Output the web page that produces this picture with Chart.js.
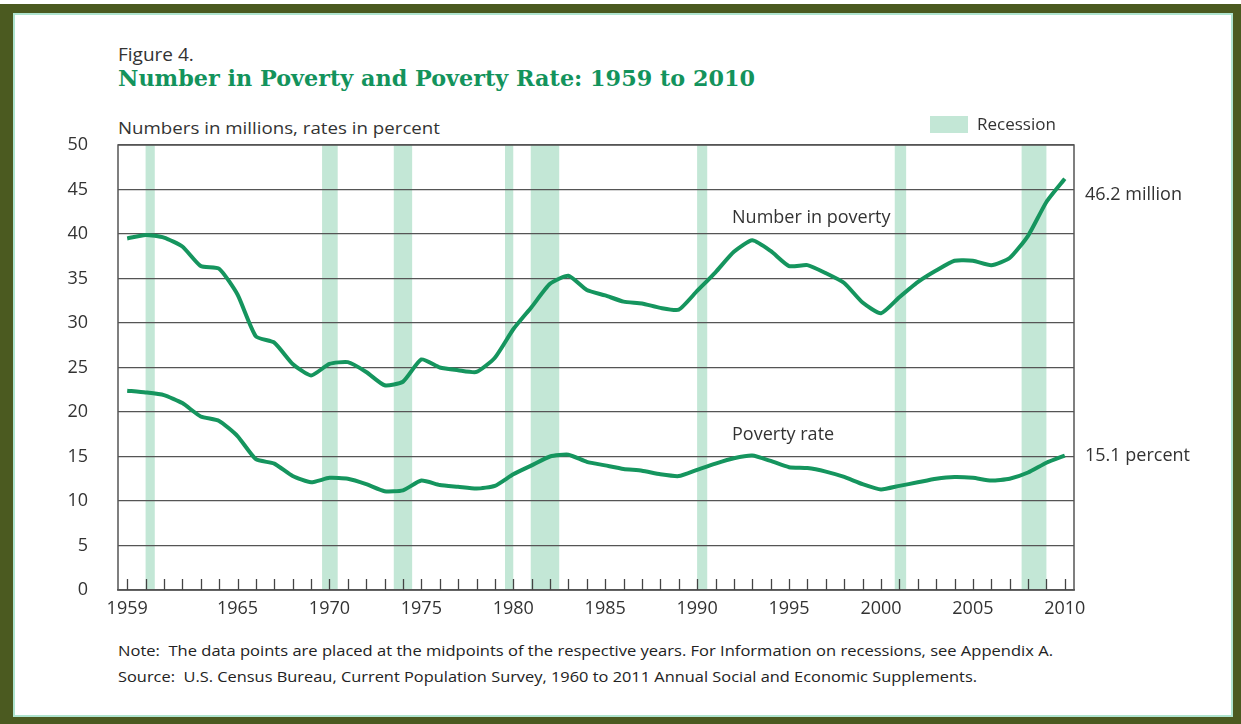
<!DOCTYPE html>
<html>
<head>
<meta charset="utf-8">
<script src="https://cdn.jsdelivr.net/npm/chart.js@4/dist/chart.umd.min.js"></script>
<style>
  html, body { margin: 0; padding: 0; width: 1241px; height: 724px; overflow: hidden; background: #fff; }
  #frame { position: absolute; left: 0; top: 4px; width: 1241px; height: 720px; background: #4b5a20; }
  #panel { position: absolute; left: 13px; top: 9px; width: 1220px; height: 704px; background: #fff;
           box-sizing: border-box; border: 2px solid #aee4cf; }
  #wrap { position: absolute; left: 0; top: 0; width: 1241px; height: 724px; }
  .txt { position: absolute; white-space: nowrap; transform-origin: 0 0; line-height: 1; }
  #fig { left: 118px; top: 41px; font: 19px "Open Sans", sans-serif; color: #333; }
  #title { left: 118px; top: 64px; font: bold 23px "DejaVu Serif", serif; color: #13935c; }
  #units { left: 118px; top: 116px; font: 17px "Open Sans", sans-serif; color: #333; }
  .note { left: 118px; font: 15px "Open Sans", sans-serif; color: #222; }
  #note1 { top: 640px; }
  #note2 { top: 666px; }
</style>
</head>
<body>
<div id="frame"><div id="panel"></div></div>
<div class="txt" id="fig">Figure 4.</div>
<div class="txt fit" id="title" data-w="637">Number in Poverty and Poverty Rate: 1959 to 2010</div>
<div class="txt fit" id="units" data-w="322">Numbers in millions, rates in percent</div>
<div class="txt note fit" id="note1" data-w="935">Note:&nbsp; The data points are placed at the midpoints of the respective years. For Information on recessions, see Appendix A.</div>
<div class="txt note fit" id="note2" data-w="859">Source:&nbsp; U.S. Census Bureau, Current Population Survey, 1960 to 2011 Annual Social and Economic Supplements.</div>
<div id="wrap"><canvas id="povertyChart" width="1241" height="724"></canvas></div>

<script>
// Годы и значения
const years = [1959, 1960, 1961, 1962, 1963, 1964, 1965, 1966, 1967, 1968, 1969,
  1970, 1971, 1972, 1973, 1974, 1975, 1976, 1977, 1978, 1979,
  1980, 1981, 1982, 1983, 1984, 1985, 1986, 1987, 1988, 1989,
  1990, 1991, 1992, 1993, 1994, 1995, 1996, 1997, 1998, 1999,
  2000, 2001, 2002, 2003, 2004, 2005, 2006, 2007, 2008, 2009, 2010];

const numberInPoverty = [39.5, 39.9, 39.6, 38.6, 36.4, 36.1, 33.2, 28.5, 27.8, 25.4, 24.1,
  25.4, 25.6, 24.5, 23.0, 23.4, 25.9, 25.0, 24.7, 24.5, 26.1,
  29.3, 31.8, 34.4, 35.3, 33.7, 33.1, 32.4, 32.2, 31.7, 31.5,
  33.6, 35.7, 38.0, 39.3, 38.1, 36.4, 36.5, 35.6, 34.5, 32.3,
  31.1, 32.9, 34.6, 35.9, 37.0, 37.0, 36.5, 37.3, 39.8, 43.6, 46.2];

const povertyRate = [22.4, 22.2, 21.9, 21.0, 19.5, 19.0, 17.3, 14.7, 14.2, 12.8, 12.1,
  12.6, 12.5, 11.9, 11.1, 11.2, 12.3, 11.8, 11.6, 11.4, 11.7,
  13.0, 14.0, 15.0, 15.2, 14.4, 14.0, 13.6, 13.4, 13.0, 12.8,
  13.5, 14.2, 14.8, 15.1, 14.5, 13.8, 13.7, 13.3, 12.7, 11.9,
  11.3, 11.7, 12.1, 12.5, 12.7, 12.6, 12.3, 12.5, 13.2, 14.3, 15.1];

// Рецессии (начало и конец в координатах оси X)
const recessionStart = [1960.0, 1969.6, 1973.5, 1979.55, 1980.95, 1990.0, 2000.75, 2007.65];
const recessionEnd   = [1960.5, 1970.45, 1974.5, 1980.0, 1982.5, 1990.55, 2001.37, 2009.0];

// Подписи оси X и Y
const xTickLabels = [1959, 1965, 1970, 1975, 1980, 1985, 1990, 1995, 2000, 2005, 2010];
const yTicks = [0, 5, 10, 15, 20, 25, 30, 35, 40, 45, 50];

const lineColor = '#15955e';
const bandColor = '#c3e7d6';
const textColor = '#333';

// Подгоняем ширину текстовых строк
document.querySelectorAll('.fit').forEach(el => {
  const w = el.getBoundingClientRect().width;
  const target = parseFloat(el.dataset.w);
  if (w > 0) el.style.transform = 'scaleX(' + (target / w) + ')';
});

// Плагин: полосы рецессий, рамка, засечки, подписи
const decorPlugin = {
  id: 'decor',
  beforeDraw(chart) {
    const { ctx, chartArea, scales } = chart;
    ctx.save();
    ctx.fillStyle = bandColor;
    recessionStart.forEach((s, i) => {
      const x1 = scales.x.getPixelForValue(s);
      const x2 = scales.x.getPixelForValue(recessionEnd[i]);
      ctx.fillRect(x1, chartArea.top, x2 - x1, chartArea.bottom - chartArea.top);
    });
    ctx.restore();
  },
  afterDraw(chart) {
    const { ctx, chartArea, scales } = chart;
    ctx.save();
    // рамка
    ctx.strokeStyle = '#555';
    ctx.lineWidth = 1.5;
    ctx.strokeRect(chartArea.left, chartArea.top, chartArea.right - chartArea.left, chartArea.bottom - chartArea.top);
    // засечки внутри по годам
    ctx.strokeStyle = '#444';
    ctx.lineWidth = 1.3;
    years.forEach(y => {
      const x = Math.round(scales.x.getPixelForValue(y)) + 0.5;
      ctx.beginPath();
      ctx.moveTo(x, chartArea.bottom);
      ctx.lineTo(x, chartArea.bottom - 11);
      ctx.stroke();
    });
    // подписи линий
    ctx.fillStyle = textColor;
    ctx.font = '18px "Open Sans", sans-serif';
    ctx.textBaseline = 'middle';
    ctx.textAlign = 'left';
    ctx.fillText('Number in poverty', scales.x.getPixelForValue(1991.9), scales.y.getPixelForValue(41.8));
    ctx.fillText('Poverty rate', scales.x.getPixelForValue(1991.9), scales.y.getPixelForValue(17.4));
    const last = years.length - 1;
    ctx.fillText(numberInPoverty[last] + ' million', chartArea.right + 11, scales.y.getPixelForValue(numberInPoverty[last]) + 16);
    ctx.fillText(povertyRate[last] + ' percent', chartArea.right + 11, scales.y.getPixelForValue(povertyRate[last]));
    // легенда
    ctx.fillStyle = bandColor;
    ctx.fillRect(930, chartArea.top - 29, 38, 17);
    ctx.fillStyle = textColor;
    ctx.font = '17px "Open Sans", sans-serif';
    ctx.fillText('Recession', 977, chartArea.top - 20);
    ctx.restore();
  }
};

const ctx = document.getElementById('povertyChart').getContext('2d');
const povertyChart = new Chart(ctx, {
  type: 'line',
  data: {
    datasets: [
      {
        label: 'Number in poverty',
        data: years.map((y, i) => ({ x: y, y: numberInPoverty[i] })),
        borderColor: lineColor,
        borderWidth: 4,
        pointRadius: 0,
        tension: 0.18,
        fill: false
      },
      {
        label: 'Poverty rate',
        data: years.map((y, i) => ({ x: y, y: povertyRate[i] })),
        borderColor: lineColor,
        borderWidth: 4,
        pointRadius: 0,
        tension: 0.18,
        fill: false
      }
    ]
  },
  options: {
    responsive: false,
    animation: false,
    layout: { padding: { left: 0, top: 145, right: 167, bottom: 104 } },
    plugins: { legend: { display: false }, tooltip: { enabled: false } },
    scales: {
      x: {
        type: 'linear',
        min: 1958.5,
        max: 2010.5,
        afterBuildTicks: scale => { scale.ticks = xTickLabels.map(v => ({ value: v })); },
        afterFit: scale => { scale.height = 30; },
        grid: { display: false, drawTicks: false },
        border: { display: true, color: '#555', width: 1.5 },
        ticks: {
          autoSkip: false, maxRotation: 0, padding: 8,
          color: textColor, font: { family: 'Open Sans', size: 18 },
          callback: v => String(v)
        }
      },
      y: {
        min: 0,
        max: 50,
        afterBuildTicks: scale => { scale.ticks = yTicks.map(v => ({ value: v })); },
        afterFit: scale => { scale.width = 118; },
        grid: { color: '#555', lineWidth: 1.3, drawTicks: false },
        border: { display: false },
        ticks: {
          padding: 30, color: textColor, font: { family: 'Open Sans', size: 18 },
          callback: v => String(v)
        }
      }
    }
  },
  plugins: [decorPlugin]
});
</script>
</body>
</html>
